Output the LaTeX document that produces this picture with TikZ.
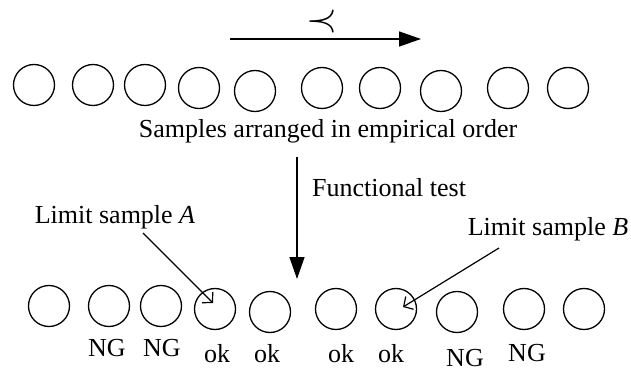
\documentclass[tikz,border=0pt]{standalone}
\usepackage{fontspec}
\usepackage{graphicx}
\setmainfont{Liberation Serif}
\usetikzlibrary{arrows.meta}
\begin{document}
\begin{tikzpicture}[x=1pt,y=-1pt,
  sample/.style={draw, circle, line width=1.3pt, minimum size=41pt, inner sep=0pt},
  lbl/.style={inner sep=0pt, anchor=base, font=\fontsize{26}{30}\selectfont},
  mainarrow/.style={line width=1.4pt, -{Triangle[length=22pt,width=15pt]}},
  pointer/.style={line width=1.2pt, -{Straight Barb[length=7pt,width=15pt,line width=1.2pt]}}]
\useasboundingbox (0,0) rectangle (631,371);

% ordering arrow and its relation symbol
\coordinate (orderL) at (230,39);
\coordinate (orderR) at (421,39);
\draw[mainarrow] (orderL) -- (orderR);
\node[inner sep=0pt, font=\fontsize{24}{28}\selectfont] (prec) at (322,22)
  {\scalebox{1.6}{$\prec$}};

% samples before the test
\foreach \i/\x/\y in {1/34/85, 2/93/85, 3/145/85, 4/199/88, 5/255/91,
                      6/322/88, 7/380/88, 8/441/91, 9/508/88, 10/568/88}
  \node[sample] (t\i) at (\x,\y) {};
\node[lbl] (caption) at (328,138) {Samples arranged in empirical order};

% functional test
\coordinate (testTop) at (297,157);
\coordinate (testTip) at (297,279);
\draw[mainarrow] (testTop) -- (testTip);
\node[lbl, anchor=base west] (ftest) at (312,197) {Functional test};

% samples after the test
\foreach \i/\x/\y in {1/49/306, 2/109/306, 3/161/306, 4/215/309, 5/270/312,
                      6/336/309, 7/396/309, 8/457/312, 9/524/309, 10/584/309}
  \node[sample] (b\i) at (\x,\y) {};

% results
\node[lbl] (r2) at (107,356) {NG};
\node[lbl] (r3) at (162,356) {NG};
\node[lbl] (r4) at (217,362) {ok};
\node[lbl] (r5) at (267,362) {ok};
\node[lbl] (r6) at (341,362) {ok};
\node[lbl] (r7) at (391,362) {ok};
\node[lbl] (r8) at (465,366) {NG};
\node[lbl] (r9) at (527,361) {NG};

% limit samples
\node[lbl] (limA) at (115,224) {Limit sample \textit{A}};
\node[lbl] (limB) at (548,236) {Limit sample \textit{B}};
\coordinate (fromA) at (143,233);
\coordinate (tipA) at (213,303);
\coordinate (fromB) at (499,248);
\coordinate (tipB) at (403,307);
\draw[pointer] (fromA) -- (tipA);
\draw[pointer] (fromB) -- (tipB);
\end{tikzpicture}
\end{document}
